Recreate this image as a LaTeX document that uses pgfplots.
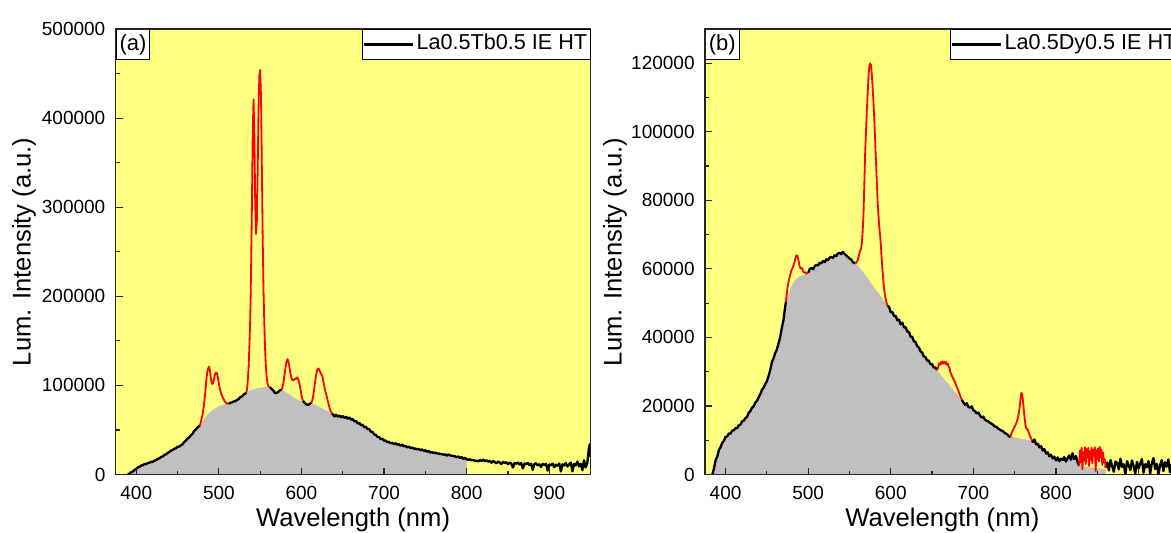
\documentclass[border=0pt]{standalone}
\usepackage{fontspec}
\setmainfont{Liberation Sans}
\usepackage{pgfplots}
\usepackage{pgfplotstable}
\pgfplotsset{compat=1.18}
\definecolor{PanelYellow}{HTML}{FFFF80}
\definecolor{FillGray}{HTML}{C0C0C0}
\definecolor{PeakRed}{HTML}{FF0000}

% columns: x = wavelength, y = intensity, b = smooth baseline under a peak, r = 0 black / 1 red / 2 joint
\pgfplotstableread{
x y b r
390 0 0 0
392 1200 0 0
394 2600 0 0
396 3500 0 0
398 5200 0 0
400 6300 0 0
402 7900 0 0
404 8700 0 0
406 10100 0 0
408 10400 0 0
410 11800 0 0
412 11600 0 0
414 13000 0 0
416 13200 0 0
418 14300 0 0
420 14100 0 0
422 15600 0 0
424 16100 0 0
426 17600 0 0
428 18000 0 0
430 19800 0 0
432 20200 0 0
434 22100 0 0
436 22500 0 0
438 24300 0 0
440 25200 0 0
442 26900 0 0
444 27400 0 0
446 28900 0 0
448 29500 0 0
450 31200 0 0
452 31300 0 0
454 32800 0 0
456 34000 0 0
458 36500 0 0
460 38000 0 0
462 40300 0 0
464 41600 0 0
466 43900 0 0
468 45500 0 0
470 48800 0 0
472 50300 0 0
474 52800 0 0
476 54200 0 0
477 55000 0 2
478 58000 56500 1
480 66000 59500 1
482 78000 62000 1
483 87000 63200 1
484 97000 64500 1
485 107000 65700 1
486 115000 66800 1
487 119000 67800 1
488 121000 68800 1
489 118000 69700 1
490 110000 70500 1
491 104000 71300 1
492 101500 72000 1
493 102500 72700 1
494 106000 73300 1
495 111000 73900 1
496 114000 74500 1
497 114500 75100 1
498 113000 75600 1
499 108000 76100 1
500 102000 76500 1
501 97000 76900 1
502 93500 77300 1
503 90500 77700 1
504 88000 78000 1
506 84000 78600 1
508 81000 79100 1
510 79600 79400 1
512 79400 0 2
514 80600 0 0
516 80900 0 0
518 82000 0 0
520 82300 0 0
522 83800 0 0
524 84700 0 0
526 86800 0 0
528 87600 0 0
530 89800 0 0
532 91000 0 0
533 92000 0 2
534 95000 92500 1
535 105000 93000 1
536 120000 93400 1
537 145000 93800 1
538 175000 94200 1
539 230000 94600 1
540 300000 95000 1
541 385000 95300 1
542 421000 95600 1
543 380000 95900 1
544 305000 96200 1
545 270000 96500 1
546 285000 96700 1
547 340000 96900 1
548 410000 97100 1
549 448000 97300 1
550 454000 97500 1
551 425000 97600 1
552 350000 97700 1
553 270000 97800 1
554 210000 97900 1
555 170000 98000 1
556 140000 98000 1
557 120000 98000 1
558 108000 98000 1
559 102000 98000 1
560 99000 98000 1
562 97800 0 2
564 96000 0 0
566 94200 0 0
568 91300 0 0
570 91600 0 0
572 92800 0 0
574 94700 0 0
576 95000 0 2
577 98000 94500 1
578 102000 94000 1
580 115000 93000 1
581 122000 92500 1
582 127000 92000 1
583 129500 91500 1
584 128000 91000 1
585 123000 90400 1
586 117000 89800 1
587 112000 89200 1
588 108000 88500 1
589 106000 87800 1
590 105500 87200 1
591 106500 86600 1
592 107500 86000 1
593 107000 85400 1
594 108500 84800 1
595 109000 84200 1
596 107000 83700 1
597 104000 83300 1
598 100000 83000 1
599 95000 82800 1
600 89000 82600 1
601 85000 82500 1
602 82500 0 2
604 80200 0 0
606 78600 0 0
608 78200 0 0
610 79400 0 0
612 80500 0 2
613 83000 80000 1
614 87000 79500 1
615 93000 79100 1
616 100000 78600 1
617 107000 78100 1
618 113000 77600 1
619 117000 77100 1
620 119000 76600 1
621 118500 76100 1
622 116500 75700 1
623 114500 75200 1
624 112500 74700 1
625 111000 74200 1
626 107000 73700 1
627 102000 73300 1
628 97000 72800 1
629 93000 72300 1
630 89500 71800 1
631 86000 71300 1
632 82000 70800 1
633 78500 70400 1
634 75000 69900 1
635 72000 69400 1
636 70000 68900 1
637 68500 0 2
638 67500 0 0
640 65200 0 0
642 67000 0 0
644 64900 0 0
646 66300 0 0
648 64100 0 0
650 65600 0 0
652 63500 0 0
654 64900 0 0
656 62600 0 0
658 64000 0 0
660 61700 0 0
662 62300 0 0
664 59600 0 0
666 60200 0 0
668 57300 0 0
670 58000 0 0
672 55300 0 0
674 55900 0 0
676 53100 0 0
678 53600 0 0
680 50900 0 0
682 51200 0 0
684 48000 0 0
686 47900 0 0
688 44900 0 0
690 44600 0 0
692 42100 0 0
694 42000 0 0
696 39700 0 0
698 40000 0 0
700 38000 0 0
702 38100 0 0
704 36300 0 0
706 36700 0 0
708 35000 0 0
710 35700 0 0
712 34000 0 0
714 35200 0 0
716 33400 0 0
718 34100 0 0
720 32300 0 0
722 33600 0 0
724 31600 0 0
726 32000 0 0
728 30500 0 0
730 31300 0 0
732 29700 0 0
734 30300 0 0
736 29000 0 0
738 29100 0 0
740 28300 0 0
742 28700 0 0
744 27100 0 0
746 28200 0 0
748 26300 0 0
750 27300 0 0
752 25500 0 0
754 26600 0 0
756 24600 0 0
758 25100 0 0
760 24200 0 0
762 24500 0 0
764 23700 0 0
766 23600 0 0
768 23000 0 0
770 22900 0 0
772 22200 0 0
774 22600 0 0
776 21200 0 0
778 22600 0 0
780 21300 0 0
782 21200 0 0
784 20700 0 0
786 20500 0 0
788 19300 0 0
790 20300 0 0
792 18600 0 0
794 19600 0 0
796 17600 0 0
798 18700 0 0
800 17200 0 0
802 16500 0 0
804 17100 0 0
806 15900 0 0
808 16400 0 0
810 15200 0 0
812 15600 0 0
814 14800 0 0
816 16200 0 0
818 15100 0 0
820 16800 0 0
822 14900 0 0
824 16000 0 0
826 14300 0 0
828 15400 0 0
830 13200 0 0
832 15100 0 0
834 14000 0 0
836 12500 0 0
838 14600 0 0
840 13300 0 0
842 11800 0 0
844 14200 0 0
846 12900 0 0
848 13800 0 0
850 11500 0 0
852 13400 0 0
854 12200 0 0
856 7800 0 0
858 13100 0 0
860 12000 0 0
862 13500 0 0
864 11200 0 0
866 12800 0 0
868 6900 0 0
870 12400 0 0
872 11600 0 0
874 13000 0 0
876 10500 0 0
878 12100 0 0
880 5200 0 0
882 11800 0 0
884 12600 0 0
886 10100 0 0
888 11400 0 0
890 8500 0 0
892 12000 0 0
894 10800 0 0
896 11900 0 0
898 4400 0 0
900 11200 0 0
902 10300 0 0
904 12100 0 0
906 8200 0 0
908 11000 0 0
910 9700 0 0
912 12300 0 0
914 3400 0 0
916 11500 0 0
918 10100 0 0
920 12700 0 0
922 9000 0 0
924 11300 0 0
926 13500 0 0
928 3600 0 0
930 11800 0 0
932 10200 0 0
934 14500 0 0
936 9100 0 0
938 12200 0 0
940 4800 0 0
942 16000 0 0
944 8000 0 0
946 12500 0 0
948 30000 0 0
949 34000 0 0
950 20000 0 0
}\tbdata

\pgfplotstableread{
x y b r
384 0 0 0
386 1800 0 0
388 4200 0 0
390 5300 0 0
392 7200 0 0
394 8000 0 0
396 9300 0 0
398 9800 0 0
400 11000 0 0
402 11100 0 0
404 12000 0 0
406 11900 0 0
408 12800 0 0
410 12900 0 0
412 13500 0 0
414 13500 0 0
416 14400 0 0
418 14500 0 0
420 15500 0 0
422 15700 0 0
424 16500 0 0
426 16800 0 0
428 18000 0 0
430 18500 0 0
432 19500 0 0
434 19900 0 0
436 21000 0 0
438 21500 0 0
440 22500 0 0
442 23400 0 0
444 24700 0 0
446 25300 0 0
448 26400 0 0
450 27200 0 0
452 28700 0 0
454 30400 0 0
456 32700 0 0
458 33900 0 0
460 35400 0 0
462 36400 0 0
464 38200 0 0
466 39900 0 0
468 42700 0 0
470 44900 0 0
472 48600 0 0
473 50400 0 2
474 52500 51200 1
475 54500 51900 1
476 56000 52600 1
477 57000 53300 1
478 58000 53900 1
479 59000 54500 1
480 59700 55000 1
481 60200 55500 1
482 60800 55900 1
483 61500 56300 1
484 62500 56600 1
485 63500 56900 1
486 64000 57100 1
487 63800 57300 1
488 62800 57500 1
489 61500 57700 1
490 60500 57800 1
491 60100 57900 1
492 60300 58000 1
493 60000 58100 1
494 59200 58200 1
495 59000 58300 1
496 58800 58400 1
497 59000 58500 1
498 58600 58600 1
499 58900 58700 1
500 58800 0 2
502 60000 0 0
504 60300 0 0
506 59900 0 0
508 60800 0 0
510 61200 0 0
512 61000 0 0
514 61800 0 0
516 61600 0 0
518 62300 0 0
520 62000 0 0
522 62800 0 0
524 62500 0 0
526 63300 0 0
528 63500 0 0
530 63200 0 0
532 64000 0 0
534 63700 0 0
536 64500 0 0
538 64700 0 0
540 64300 0 0
542 65000 0 0
544 64400 0 0
546 63900 0 0
548 63500 0 0
550 63000 0 0
552 62800 0 0
554 62000 0 0
556 61700 0 0
557 61600 0 2
558 61800 61400 1
560 62500 61000 1
562 64500 60400 1
564 66000 59800 1
565 67500 59500 1
566 71000 59200 1
567 76000 58900 1
568 85000 58600 1
569 94000 58300 1
570 100000 58000 1
571 106000 57600 1
572 111000 57300 1
573 116000 56900 1
574 119000 56600 1
575 120000 56200 1
576 119500 55900 1
577 117000 55500 1
578 113000 55200 1
579 109000 54800 1
580 104000 54500 1
581 98000 54200 1
582 92000 53900 1
583 86000 53600 1
584 80000 53300 1
585 76000 53000 1
586 72500 52700 1
587 70000 52300 1
588 67000 52000 1
589 63000 51700 1
590 59500 51400 1
591 56500 51000 1
592 54000 50700 1
593 52300 50300 1
594 51000 50000 1
595 50000 49600 1
596 49200 0 2
598 48900 0 0
600 47300 0 0
602 47400 0 0
604 46200 0 0
606 46300 0 0
608 45000 0 0
610 45200 0 0
612 43800 0 0
614 44300 0 0
616 42900 0 0
618 43000 0 0
620 41700 0 0
622 41600 0 0
624 40200 0 0
626 40200 0 0
628 38800 0 0
630 38700 0 0
632 37400 0 0
634 37100 0 0
636 35900 0 0
638 35600 0 0
640 34400 0 0
642 34300 0 0
644 33200 0 0
646 33300 0 0
648 32200 0 0
650 32200 0 0
652 31200 0 0
654 31200 0 0
656 30500 0 2
657 31000 30200 1
658 32000 29900 1
659 32500 29600 1
660 32000 29300 1
661 32800 29000 1
662 32300 28700 1
663 33000 28400 1
664 32400 28100 1
665 32900 27800 1
666 32300 27500 1
667 32800 27200 1
668 32000 26900 1
669 32400 26700 1
670 31500 26400 1
671 31200 26100 1
672 30000 25800 1
674 28800 25200 1
676 27800 24600 1
678 26800 24000 1
680 25500 23500 1
682 24300 22900 1
684 23000 22300 1
686 21800 0 2
688 21000 0 0
690 20300 0 0
692 20800 0 0
694 19700 0 0
696 19500 0 0
698 19900 0 0
700 18700 0 0
702 18500 0 0
704 17800 0 0
706 18100 0 0
708 17200 0 0
710 16600 0 0
712 16900 0 0
714 16000 0 0
716 15700 0 0
718 15500 0 0
720 15100 0 0
722 14800 0 0
724 14500 0 0
726 14000 0 0
728 13900 0 0
730 13400 0 0
732 13100 0 0
734 12800 0 0
736 12600 0 0
738 12100 0 0
740 11900 0 0
742 11400 0 0
744 11000 0 0
745 11000 0 2
746 12000 10950 1
748 13000 10900 1
750 14000 10800 1
752 15000 10700 1
754 16500 10600 1
756 19500 10500 1
757 22000 10450 1
758 23800 10400 1
759 23500 10350 1
760 21500 10300 1
761 19000 10270 1
762 16500 10250 1
763 14500 10220 1
764 13500 10200 1
766 13000 10100 1
768 11500 10000 1
770 10500 9950 1
771 10000 0 2
772 9500 0 0
774 10200 0 0
776 8800 0 0
778 9000 0 0
780 7900 0 0
782 8300 0 0
784 7000 0 0
786 7400 0 0
788 6100 0 0
790 6500 0 0
792 5300 0 0
794 5800 0 0
796 4700 0 0
798 5200 0 0
800 4100 0 0
802 5000 0 0
804 3900 0 0
806 4600 0 0
808 4200 0 0
810 5100 0 0
812 3800 0 0
814 4700 0 0
816 5600 0 0
818 4300 0 0
820 6200 0 0
822 4500 0 0
824 5400 0 0
826 3800 0 0
828 2500 0 2
829 7000 2470 1
830 3500 2440 1
831 7800 2410 1
832 1500 2380 1
833 6500 2350 1
834 4000 2310 1
835 8000 2280 1
836 3000 2250 1
837 7500 2220 1
838 5000 2190 1
839 7800 2160 1
840 2500 2130 1
841 6800 2090 1
842 4200 2060 1
843 7900 2030 1
844 3300 2000 1
845 7200 1970 1
846 5500 1940 1
847 8000 1910 1
848 1000 1880 1
849 7000 1840 1
850 4500 1810 1
851 7600 1780 1
852 3800 1750 1
853 8100 1720 1
854 5000 1690 1
855 7300 1660 1
856 2800 1620 1
857 6500 1590 1
858 3500 1560 1
859 4500 1530 1
860 2000 0 2
862 3500 0 0
864 1200 0 0
866 4200 0 0
868 2500 0 0
870 800 0 0
872 3800 0 0
874 3400 0 0
876 1500 0 0
878 4600 0 0
880 2200 0 0
882 3000 0 0
884 0 0 0
886 3900 0 0
888 2700 0 0
890 1300 0 0
892 4100 0 0
894 2400 0 0
896 300 0 0
898 3700 0 0
900 1800 0 0
902 3200 0 0
904 4500 0 0
906 500 0 0
908 3000 0 0
910 2100 0 0
912 3900 0 0
914 200 0 0
916 3300 0 0
918 4800 0 0
920 1600 0 0
922 3100 0 0
924 0 0 0
926 2800 0 0
928 4200 0 0
930 1000 0 0
932 3600 0 0
934 2300 0 0
936 4400 0 0
938 600 0 0
940 3000 0 0
942 1700 0 0
944 3800 0 0
946 200 0 0
948 2600 0 0
950 1200 0 0
}\dydata

\tikzset{
  panel/.style={draw=black,fill=white,line width=0.5pt,anchor=north west,inner sep=0pt,
    minimum width=16.9pt,minimum height=15pt,font=\fontsize{11}{13}\selectfont},
}
\pgfplotsset{
  spec/.style={
    scale only axis,width=237.5pt,height=222.75pt,
    xmin=375,xmax=950,ymin=0,
    xtick={400,500,...,900},minor x tick num=1,minor y tick num=1,
    xtick pos=bottom,ytick pos=left,tick align=inside,
    major tick length=3.5pt,minor tick length=2pt,
    axis on top,
    axis line style={line width=0.7pt,color=black!85},
    tick style={line width=0.6pt,color=black!85},
    axis background/.style={fill=PanelYellow},
    scaled y ticks=false,
    /pgf/number format/fixed,
    /pgf/number format/assume math mode=true,
    /pgf/number format/1000 sep={},
    tick label style={font=\fontsize{9.5}{11}\selectfont},
    xticklabel style={yshift=-2.5pt},
    yticklabel style={xshift=-1.6pt},
    xlabel={Wavelength (nm)},
    ylabel={Lum. Intensity (a.u.)},
    label style={font=\fontsize{12.8}{15}\selectfont},
    xlabel style={at={(axis description cs:0.5,-0.1178)},anchor=base},
    unbounded coords=jump,
    legend cell align=left,
    legend style={at={(1,1)},anchor=north east,draw=black,fill=white,line width=0.5pt,
      inner xsep=0pt,inner ysep=0pt,font=\fontsize{10.8}{13}\selectfont,
      nodes={inner xsep=1.5pt,inner ysep=2.2pt,text height=8pt,text depth=2.6pt}},
    legend image code/.code={\draw[black,line width=1.1pt] (0pt,0pt) -- (24.5pt,0pt);},
  },
  grayfill/.style={fill=FillGray,draw=none,forget plot},
  blk/.style={black,line width=1.15pt,line join=round},
  redp/.style={PeakRed,line width=0.9pt,line join=round,forget plot},
}

\begin{document}
\begin{tikzpicture}
\begin{axis}[spec,ymax=500000,ytick={0,100000,...,500000},
  ylabel style={at={(axis description cs:-0.1928,0.5)},anchor=center}]
  \addplot[grayfill,restrict x to domain=380:800]
    table[x=x,y expr={\thisrow{r}==1 ? \thisrow{b} : \thisrow{y}}]{\tbdata} \closedcycle;
  \addplot[blk,restrict expr to domain={abs(\thisrow{r}-1)}{0.5:1.5}]
    table[x=x,y=y]{\tbdata};
  \addlegendentry{La0.5Tb0.5 IE HT}
  \addplot[redp,restrict expr to domain={\thisrow{r}}{0.5:2.5}]
    table[x=x,y=y]{\tbdata};
  \node[panel] at (rel axis cs:0,1) {(a)};
\end{axis}
\begin{axis}[spec,at={(294.65pt,0pt)},ymax=130000,ytick={0,20000,...,120000},
  ylabel style={at={(axis description cs:-0.1895,0.5)},anchor=center}]
  \addplot[grayfill,restrict x to domain=380:860]
    table[x=x,y expr={\thisrow{r}==1 ? \thisrow{b} : \thisrow{y}}]{\dydata} \closedcycle;
  \addplot[blk,restrict expr to domain={abs(\thisrow{r}-1)}{0.5:1.5}]
    table[x=x,y=y]{\dydata};
  \addlegendentry{La0.5Dy0.5 IE HT}
  \addplot[redp,restrict expr to domain={\thisrow{r}}{0.5:2.5}]
    table[x=x,y=y]{\dydata};
  \node[panel] at (rel axis cs:0,1) {(b)};
\end{axis}
\pgfresetboundingbox
\useasboundingbox (-57.8pt,-28.75pt) rectangle (527.7pt,237.25pt);
\end{tikzpicture}
\end{document}
